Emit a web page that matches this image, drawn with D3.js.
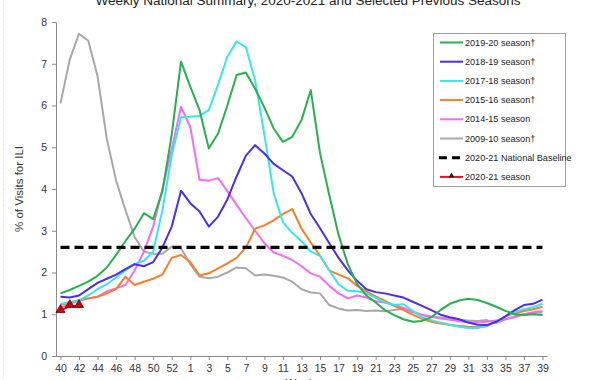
<!DOCTYPE html>
<html><head><meta charset="utf-8">
<script src="https://cdn.jsdelivr.net/npm/d3@7"></script>
<style>body{margin:0;background:#fff}svg{display:block}text{font-family:"Liberation Sans",Arial,sans-serif}</style>
</head><body><svg id="c" width="600" height="380"></svg>
<script>
const weeks = ["40","41","42","43","44","45","46","47","48","49","50","51","52","53",
  "1","2","3","4","5","6","7","8","9","10","11","12","13","14","15","16","17","18","19","20",
  "21","22","23","24","25","26","27","28","29","30","31","32","33","34","35","36","37","38","39"];
const weekTicks = ["40","42","44","46","48","50","52","1","3","5","7","9","11","13","15","17","19","21","23","25","27","29","31","33","35","37","39"];
const yTicks = [0,1,2,3,4,5,6,7,8];

const s2019 = [1.50,1.58,1.68,1.78,1.92,2.12,2.42,2.75,3.05,3.42,3.28,3.95,5.3,7.05,
  6.45,5.89,4.97,5.33,6.0,6.73,6.79,6.4,5.95,5.45,5.13,5.25,5.65,6.37,4.86,3.85,2.9,2.2,1.72,1.45,
  1.28,1.1,0.98,0.88,0.82,0.84,0.93,1.1,1.25,1.33,1.37,1.34,1.27,1.18,1.08,1.0,0.98,1.0,0.98];
const s2018 = [1.42,1.40,1.45,1.60,1.75,1.85,1.95,2.08,2.2,2.15,2.25,2.6,3.1,3.96,
  3.66,3.46,3.1,3.34,3.75,4.3,4.8,5.05,4.85,4.6,4.45,4.3,3.9,3.4,3.06,2.7,2.35,2.05,1.8,1.6,
  1.53,1.5,1.45,1.4,1.3,1.2,1.1,0.99,0.93,0.88,0.8,0.75,0.74,0.82,0.95,1.1,1.22,1.25,1.35];
const s2017 = [1.25,1.28,1.33,1.45,1.6,1.72,1.88,2.05,2.2,2.28,2.5,3.5,4.8,5.72,
  5.73,5.75,5.89,6.5,7.17,7.53,7.4,6.6,5.3,3.9,3.2,2.95,2.75,2.5,2.4,2.05,1.72,1.56,1.55,1.5,
  1.4,1.28,1.22,1.24,1.08,0.93,0.86,0.8,0.75,0.7,0.67,0.67,0.72,0.82,0.95,1.05,1.12,1.17,1.25];
const s2015 = [1.22,1.28,1.34,1.38,1.42,1.5,1.6,1.9,1.7,1.78,1.85,1.95,2.35,2.42,
  2.25,1.93,1.98,2.1,2.22,2.35,2.6,3.05,3.13,3.25,3.4,3.52,3.05,2.72,2.4,2.05,1.95,1.86,1.68,1.55,
  1.43,1.32,1.2,1.1,0.99,0.89,0.82,0.78,0.74,0.72,0.7,0.69,0.72,0.82,0.95,1.02,1.08,1.12,1.18];
const s2014 = [1.15,1.25,1.32,1.38,1.42,1.55,1.62,1.7,2.05,2.5,3.1,4.0,4.95,5.97,
  5.49,4.22,4.2,4.26,3.95,3.62,3.3,3.0,2.7,2.48,2.4,2.3,2.15,1.98,1.9,1.68,1.5,1.38,1.45,1.4,
  1.31,1.28,1.22,1.15,1.06,0.99,0.94,0.9,0.87,0.83,0.81,0.8,0.82,0.85,0.88,0.93,1.0,1.05,1.08];
const s2009 = [6.05,7.1,7.72,7.55,6.7,5.2,4.2,3.5,2.85,2.5,2.45,2.45,2.62,2.58,
  2.2,1.9,1.86,1.9,2.0,2.12,2.1,1.93,1.95,1.92,1.88,1.78,1.6,1.52,1.5,1.22,1.14,1.09,1.1,1.08,
  1.09,1.07,1.1,1.13,1.05,0.98,0.94,0.92,0.9,0.87,0.85,0.84,0.86,0.79,0.88,0.95,1.0,1.03,1.05];
const s2020 = [1.08,1.2,1.2];
const baseline = 2.6;

const seriesNames = ["2019-20 season\u2020","2018-19 season\u2020","2017-18 season\u2020","2015-16 season\u2020","2014-15 season","2009-10 season\u2020"];
const seriesColors = ["#27b050","#4a2cf5","#33e8e8","#fb7d2c","#f46cf4","#a8a8a8"];
const seriesData = [s2019,s2018,s2017,s2015,s2014,s2009];

const svg = d3.select("#c");
const x = d3.scalePoint().domain(weeks).range([60.5, 542.5]);
const y = d3.scaleLinear().domain([0, 8]).range([356, 22]);

svg.append("line").attr("x1",3.5).attr("x2",3.5).attr("y1",0).attr("y2",380).attr("stroke","#e2e2e2").attr("stroke-dasharray","1,1");

svg.append("text").attr("x",308).attr("y",5).attr("text-anchor","middle")
  .attr("font-size",13.5).attr("fill","#222").text("Weekly National Summary, 2020-2021 and Selected Previous Seasons");

const yAxis = svg.append("g").attr("transform","translate(56,0)")
  .call(d3.axisLeft(y).tickValues(yTicks).tickFormat(d3.format("d")).tickSize(4).tickSizeOuter(0).tickPadding(5));
const xAxis = svg.append("g").attr("transform","translate(0,356)")
  .call(d3.axisBottom(x).tickValues(weekTicks).tickSize(4).tickSizeOuter(0).tickPadding(5));
xAxis.select(".domain").attr("d","M56,0.5H547.5");
[yAxis,xAxis].forEach(g=>{
  g.select(".domain").attr("stroke","#8c8c8c");
  g.selectAll(".tick line").attr("stroke","#8c8c8c");
  g.selectAll(".tick text").attr("fill","#333").attr("font-size",10.5)
   .attr("font-family","'Liberation Sans',Arial,sans-serif");
});

svg.append("text").attr("transform","translate(23,189) rotate(-90)").attr("text-anchor","middle")
  .attr("font-size",11.5).attr("fill","#333").text("% of Visits for ILI");
svg.append("text").attr("x",300).attr("y",387).attr("text-anchor","middle")
  .attr("font-size",11.5).attr("fill","#333").text("Week");

const line = d3.line().x((d,i)=>x(weeks[i])).y(d=>y(d));

for (let k = seriesData.length-1; k >= 0; k--) {
  svg.append("path").datum(seriesData[k]).attr("d", line)
    .attr("fill","none").attr("stroke",seriesColors[k]).attr("stroke-width",2).attr("stroke-linejoin","round");
}

svg.append("line").attr("x1",x(weeks[0])).attr("x2",x(weeks[weeks.length-1]))
  .attr("y1",y(baseline)).attr("y2",y(baseline))
  .attr("stroke","#000").attr("stroke-width",3.2).attr("stroke-dasharray","9,5");

svg.append("path").datum(s2020).attr("d", line).attr("fill","none").attr("stroke","#e8101a").attr("stroke-width",2);
const tri = d3.symbol().type(d3.symbolTriangle).size(36);
svg.selectAll(".m").data(s2020).enter().append("path")
  .attr("transform",(d,i)=>`translate(${x(weeks[i])},${y(d)-1})`)
  .attr("d",tri()).attr("fill","#d40000").attr("stroke","#600").attr("stroke-width",0.8);

const lg = svg.append("g");
lg.append("rect").attr("x",433.5).attr("y",33.5).attr("width",132).attr("height",153)
  .attr("fill","#fff").attr("stroke","#a0a0a0");
const legNames = seriesNames.concat(["2020-21 National Baseline","2020-21 season"]);
legNames.forEach((n,i)=>{
  const yy = 42.5 + i*19.2;
  const l = lg.append("line").attr("x1",440).attr("x2",463).attr("y1",yy).attr("y2",yy);
  if (i < 6) l.attr("stroke",seriesColors[i]).attr("stroke-width",2);
  else if (i === 6) l.attr("stroke","#000").attr("stroke-width",3).attr("stroke-dasharray","8,5").attr("x1",439);
  else {
    l.attr("stroke","#e8101a").attr("stroke-width",2);
    lg.append("path").attr("transform",`translate(451.5,${yy-1})`).attr("d",d3.symbol().type(d3.symbolTriangle).size(14)()).attr("fill","#222");
  }
  lg.append("text").attr("x",465).attr("y",yy+3).attr("font-size",9.1).attr("fill","#222").text(n);
});
</script></body></html>
